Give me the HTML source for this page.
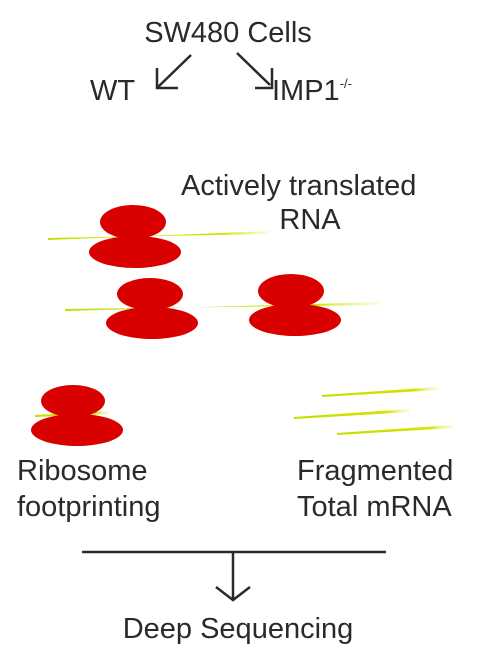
<!DOCTYPE html>
<html><head><meta charset="utf-8"><style>
html,body{margin:0;padding:0;background:#fff;}
svg{display:block;}
text{font-family:"Liberation Sans",sans-serif;fill:#2a2a2a;font-size:29px;}
</style></head><body>
<svg width="500" height="649" viewBox="0 0 500 649">
<defs>
<linearGradient id="rg" x1="0" x2="1" y1="0" y2="0"><stop offset="0" stop-color="#c8dc00"/><stop offset="0.8" stop-color="#d4e400"/><stop offset="1" stop-color="#eef5a0" stop-opacity="0.3"/></linearGradient>
</defs>
<text x="228" y="42" text-anchor="middle">SW480 Cells</text>
<g stroke="#2a2a2a" stroke-width="2.5" fill="none">
<path d="M191 55 L158 87 M157 68 L157 88 L178 88"/>
<path d="M237 53 L270 85 M255 88 L272 88 L272 68"/>
</g>
<text x="90" y="100">WT</text>
<text x="272" y="100">IMP1<tspan font-size="13" dy="-12">-/-</tspan></text>
<text x="181" y="195">Actively translated</text>
<text x="310" y="229" text-anchor="middle">RNA</text>
<g>
<path d="M48 240 L270 231 L270 234 L48 238 Z" fill="url(#rg)"/>
<path d="M65 311 L380 302 L380 305 L65 309 Z" fill="url(#rg)"/>
<path d="M35 415 L110 411 L110 414 L35 417 Z" fill="url(#rg)"/>
<path d="M322 395 L438 387 L438 390 L322 397 Z" fill="url(#rg)"/>
<path d="M294 417 L410 409 L410 412 L294 419 Z" fill="url(#rg)"/>
<path d="M337 433 L453 425 L453 428 L337 435 Z" fill="url(#rg)"/>
</g>
<g fill="#d90000">
<ellipse cx="133" cy="222" rx="33" ry="17"/><ellipse cx="135" cy="252" rx="46" ry="16"/>
<ellipse cx="150" cy="294" rx="33" ry="16"/><ellipse cx="152" cy="323" rx="46" ry="16"/>
<ellipse cx="291" cy="291" rx="33" ry="17"/><ellipse cx="295" cy="320" rx="46" ry="16"/>
<ellipse cx="73" cy="401" rx="32" ry="16"/><ellipse cx="77" cy="430" rx="46" ry="16"/>
</g>
<text x="17" y="480">Ribosome</text>
<text x="17" y="516">footprinting</text>
<text x="297" y="480">Fragmented</text>
<text x="297" y="516">Total mRNA</text>
<g stroke="#2a2a2a" stroke-width="2.5" fill="none">
<path d="M82 552 L386 552 M233 552 L233 600 M216 587 L233 600 L250 587"/>
</g>
<text x="238" y="638" text-anchor="middle">Deep Sequencing</text>
</svg>
</body></html>
